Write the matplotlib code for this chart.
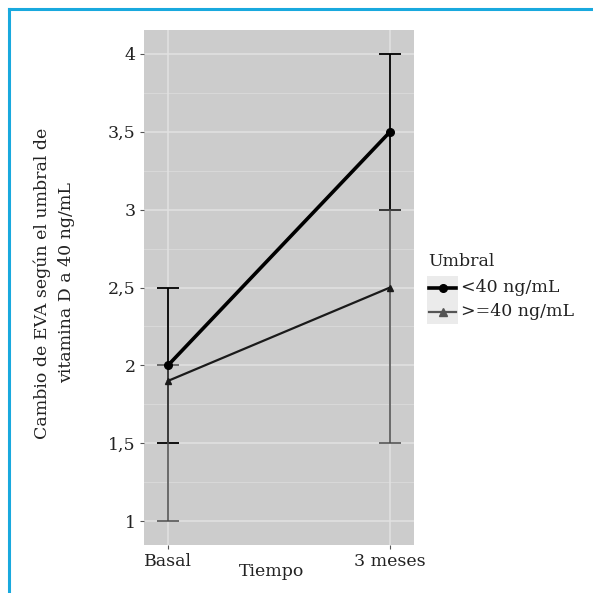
import numpy as np
from matplotlib import pyplot as plt
from matplotlib.lines import Line2D
from matplotlib.patches import Rectangle

# Datos
tiempo = ['Basal', '3 meses']
grupos = ['<40 ng/mL', '>=40 ng/mL']
media_menor40 = [2.0, 3.5]
inf_menor40 = [1.5, 3.0]
sup_menor40 = [2.5, 4.0]
media_mayor40 = [1.9, 2.5]
inf_mayor40 = [1.0, 1.5]
sup_mayor40 = [2.0, 3.0]
y_ticks = [1, 1.5, 2, 2.5, 3, 3.5, 4]
y_tick_labels = ['1', '1,5', '2', '2,5', '3', '3,5', '4']

plt.rcParams['font.family'] = ['DejaVu Serif']

W, H = 593, 593
FS = 12.5
fig = plt.figure(figsize=(W / 100, H / 100), dpi=100)
ax = fig.add_axes([144 / W, 1 - 545 / H, (414 - 144) / W, (545 - 30) / H])

x = np.arange(1, len(tiempo) + 1)
ax.set_facecolor('#cccccc')
for s in ax.spines.values():
    s.set_visible(False)

# grid like ggplot
for yv in np.arange(1.25, 4.0, 0.5):
    ax.axhline(yv, color='#d9d9d9', lw=0.7, zorder=0)
for yv in y_ticks:
    ax.axhline(yv, color='#e2e2e2', lw=1.1, zorder=0)
for xv in x:
    ax.axvline(xv, color='#e2e2e2', lw=1.1, zorder=0)

black = '#000000'
gray = '#4a4a4a'

def yerr(m, lo, hi):
    m = np.array(m)
    return [m - np.array(lo), np.array(hi) - m]

ax.errorbar(x, media_menor40, yerr=yerr(media_menor40, inf_menor40, sup_menor40),
            fmt='none', ecolor=black, elinewidth=1.3, capsize=8, capthick=1.3, zorder=2)
ax.errorbar(x, media_mayor40, yerr=yerr(media_mayor40, inf_mayor40, sup_mayor40),
            fmt='none', ecolor=gray, elinewidth=1.1, capsize=8, capthick=1.1, zorder=3)
ax.plot(x, media_mayor40, color='#1a1a1a', lw=1.6, marker='^', ms=5, zorder=4)
ax.plot(x, media_menor40, color=black, lw=2.6, marker='o', ms=5.5, zorder=5)

ax.set_xlim(0.892, 2.108)
ax.set_ylim(0.846, 4.154)
ax.set_xticks(x)
ax.set_xticklabels(tiempo, fontsize=FS, color='#222222')
ax.set_yticks(y_ticks)
ax.set_yticklabels(y_tick_labels, fontsize=FS, color='#222222')
ax.tick_params(axis='both', length=3, width=0.8, color='#555555', pad=3)

fig.text(272 / W, 1 - 572 / H, 'Tiempo', ha='center', va='center', fontsize=FS, color='#222222')
fig.text(54 / W, 1 - 283 / H, 'Cambio de EVA según el umbral de\nvitamina D a 40 ng/mL',
         rotation=90, ha='center', va='center', fontsize=FS, color='#222222', linespacing=1.55)

# leyenda manual
fig.text(428 / W, 1 - 262 / H, 'Umbral', ha='left', va='center', fontsize=FS, color='#222222')
estilos = [(black, 'o', 2.6), ('#555555', '^', 1.6)]
for i, (g, (c, mk, lw)) in enumerate(zip(grupos, estilos)):
    yc = 288 + 24 * i
    fig.add_artist(Rectangle((427 / W, 1 - (yc + 12) / H), 31 / W, 24 / H,
                             transform=fig.transFigure, facecolor='#ebebeb', edgecolor='none'))
    fig.add_artist(Line2D([429 / W, 456 / W], [1 - yc / H, 1 - yc / H], transform=fig.transFigure,
                          color=c, lw=lw, zorder=3))
    fig.add_artist(Line2D([442.5 / W], [1 - yc / H], transform=fig.transFigure,
                          color=c, marker=mk, ms=5.5, zorder=4))
    fig.text(461 / W, 1 - yc / H, g, ha='left', va='center', fontsize=FS, color='#222222')

# marco azul
cyan = '#19a9de'
fig.add_artist(Line2D([9 / W, 9 / W], [0, 1 - 9 / H], transform=fig.transFigure, color=cyan, lw=2.2))
fig.add_artist(Line2D([9 / W, 1], [1 - 9 / H, 1 - 9 / H], transform=fig.transFigure, color=cyan, lw=2.2))

fig.savefig('out.png', dpi=100)
